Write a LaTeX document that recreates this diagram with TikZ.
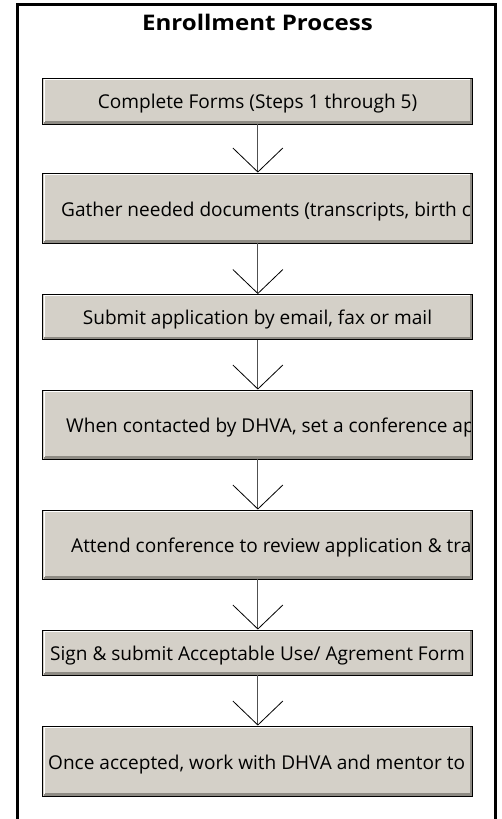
\documentclass[tikz,border=0pt]{standalone}
\usepackage{fontspec}
\setmainfont{Open Sans}
\newfontfamily\titlefont{Open Sans}[FakeStretch=1.12]
\usetikzlibrary{arrows.meta}
\definecolor{boxfill}{HTML}{D4D0C8}
\definecolor{boxshade}{HTML}{8E8B84}
\definecolor{shaft}{HTML}{505050}
\tikzset{
  x=1pt, y=-1pt,
  stepbox/.style={rectangle, draw=black, line width=0.9pt, fill=boxfill,
    minimum width=430pt, inner sep=0pt,
    path picture={
      \draw[boxshade, line width=2.4pt]
        ([xshift=-1.6pt,yshift=1.2pt]path picture bounding box.north east) --
        ([xshift=-1.6pt,yshift=1.6pt]path picture bounding box.south east) --
        ([xshift=1.2pt,yshift=1.6pt]path picture bounding box.south west);
      \draw[white, line width=1.3pt]
        ([xshift=1.3pt,yshift=2.5pt]path picture bounding box.south west) --
        ([xshift=1.3pt,yshift=-1.3pt]path picture bounding box.north west) --
        ([xshift=-2.8pt,yshift=-1.3pt]path picture bounding box.north east);
    }},
  steptext/.style={font=\fontsize{19.05}{20}\selectfont, inner sep=0pt, anchor=base},
  steptextl/.style={steptext, anchor=base west},
  conn/.style={draw=shaft, line width=1.2pt,
    -{Straight Barb[length=24pt, width=50pt, line width=0.8pt, color=black]}},
  frameline/.style={draw=black, line width=3pt},
}
\begin{document}
\begin{tikzpicture}
\useasboundingbox (0,0) rectangle (502,819);
\fill[white] (0,0) rectangle (502,819);
\draw[frameline] (17.5,830) -- (17.5,4.5) -- (495.5,4.5) -- (495.5,830);
\node[font=\titlefont\fontsize{21.5}{24}\selectfont\bfseries, inner sep=0pt, anchor=base] (title) at (257.5,30) {Enrollment Process};

\node[stepbox, minimum height=46pt] (b1) at (257.85,101) {};
\node[stepbox, minimum height=70pt] (b2) at (257.85,208) {};
\node[stepbox, minimum height=45pt] (b3) at (257.85,317) {};
\node[stepbox, minimum height=69pt] (b4) at (257.85,424.5) {};
\node[stepbox, minimum height=69pt] (b5) at (257.85,544.5) {};
\node[stepbox, minimum height=45pt] (b6) at (257.85,652.5) {};
\node[stepbox, minimum height=70pt] (b7) at (257.85,761) {};

\node[steptext] (t1) at (257.5,108.5) {Complete Forms (Steps 1 through 5)};
\begin{scope}
  \clip ([xshift=1pt,yshift=-1pt]b2.south west) rectangle ([xshift=-3pt,yshift=1pt]b2.north east);
  \node[steptextl] (t2) at (61,216.5) {Gather needed documents (transcripts, birth c};
\end{scope}
\node[steptext] (t3) at (257.5,324.7) {Submit application by email, fax or mail};
\begin{scope}
  \clip ([xshift=1pt,yshift=-1pt]b4.south west) rectangle ([xshift=-3pt,yshift=1pt]b4.north east);
  \node[steptextl] (t4) at (66,432.5) {When contacted by DHVA, set a conference ap};
\end{scope}
\begin{scope}
  \clip ([xshift=1pt,yshift=-1pt]b5.south west) rectangle ([xshift=-3pt,yshift=1pt]b5.north east);
  \node[steptextl] (t5) at (71,552.5) {Attend conference to review application \& tra};
\end{scope}
\node[steptext] (t6) at (257.5,660.2) {Sign \& submit Acceptable Use/ Agrement Form};
\begin{scope}
  \clip ([xshift=1pt,yshift=-1pt]b7.south west) rectangle ([xshift=-3pt,yshift=1pt]b7.north east);
  \node[steptextl] (t7) at (48,769) {Once accepted, work with DHVA and mentor to};
\end{scope}

\draw[conn] (b1.south) -- (b2.north);
\draw[conn] (b2.south) -- (b3.north);
\draw[conn] (b3.south) -- (b4.north);
\draw[conn] (b4.south) -- (b5.north);
\draw[conn] (b5.south) -- (b6.north);
\draw[conn] (b6.south) -- (b7.north);
\end{tikzpicture}
\end{document}
